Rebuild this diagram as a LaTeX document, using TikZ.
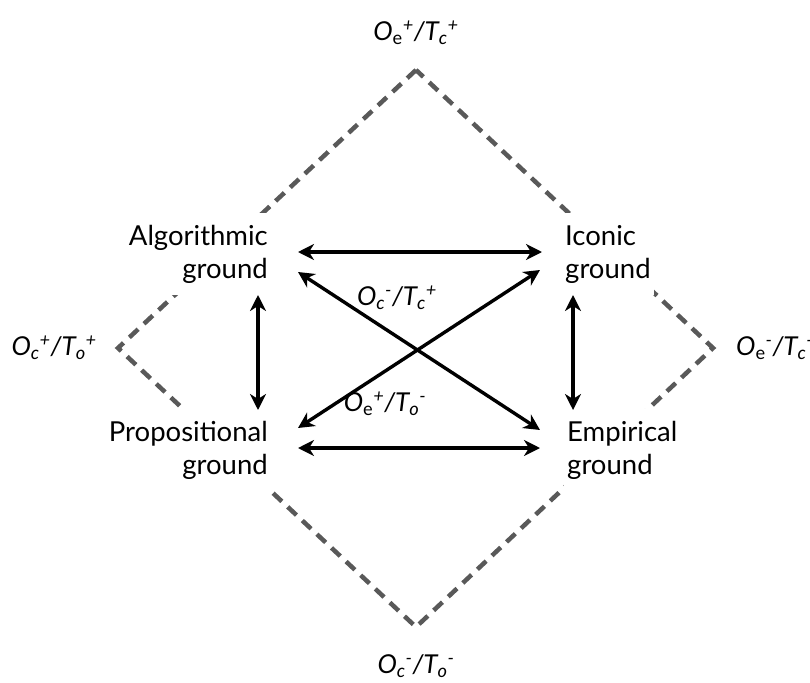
\documentclass[tikz,border=0pt]{standalone}
\usepackage{fontspec}
\setmainfont{Lato}
\usetikzlibrary{arrows.meta,calc}
\definecolor{dashgray}{HTML}{595959}
\newcommand{\mysb}[1]{\textsubscript{#1}}
\newcommand{\mysp}[1]{\textsuperscript{#1}}
\begin{document}
\begin{tikzpicture}[x=1pt,y=-1pt,
  groundbox/.style={font=\fontsize{27.5}{33}\selectfont, fill=white, inner xsep=3pt, inner ysep=12pt},
  gap/.style={font=\fontsize{26}{33}\selectfont\itshape, inner sep=0pt},
  rel/.style={line width=3.4pt, {Stealth[length=16pt,width=16pt,inset=5pt]}-{Stealth[length=16pt,width=16pt,inset=5pt]}},
  frame/.style={line width=4.5pt, dashgray, dash pattern=on 12pt off 8pt}]
\useasboundingbox (0,0) rectangle (810,682);
% outer diamond
\coordinate (top) at (416,70);
\coordinate (lft) at (118,348);
\coordinate (rgt) at (713,348);
\coordinate (bot) at (416,627);
\draw[frame] (top) -- (lft) -- (bot) -- (rgt) -- cycle;
% ground nodes
\node[groundbox, align=right, anchor=east] (alg) at (271,254) {Algorithmic\\ground};
\node[groundbox, align=left, anchor=west] (icon) at (562,254) {Iconic\\ground};
\node[groundbox, align=right, anchor=east] (prop) at (271,450) {Propositional\\ground};
\node[groundbox, align=left, anchor=west] (emp) at (564,450) {Empirical\\ground};
% relations
\draw[rel] ($(alg.east)+(27,-2)$) -- ($(icon.west)+(-20,-2)$);
\draw[rel] ($(prop.east)+(27,-2)$) -- ($(emp.west)+(-24,-2)$);
\draw[rel] ($(alg.east)+(-13,41)$) -- ($(prop.east)+(-13,-40)$);
\draw[rel] ($(icon.west)+(11,41)$) -- ($(emp.west)+(9,-40)$);
\draw[rel] ($(alg.east)+(27,18)$) -- ($(emp.west)+(-24,-20)$);
\draw[rel] ($(prop.east)+(27,-22)$) -- ($(icon.west)+(-22,16)$);
% labels
\node[gap] (ltop) at (416,33) {O\mysb{\upshape e}\mysp{+}/T\mysb{c}\mysp{+}};
\node[gap] (lbot) at (416,666) {O\mysb{c}\mysp{-}/T\mysb{o}\mysp{-}};
\node[gap, anchor=east] (llft) at (97,348) {O\mysb{c}\mysp{+}/T\mysb{o}\mysp{+}};
\node[gap, anchor=west] (lrgt) at (736,348) {O\mysb{\upshape e}\mysp{-}/T\mysb{c}\mysp{-}};
\node[gap] (lup) at (397,298) {O\mysb{c}\mysp{-}/T\mysb{c}\mysp{+}};
\node[gap] (ldn) at (385,404) {O\mysb{\upshape e}\mysp{+}/T\mysb{o}\mysp{-}};
\end{tikzpicture}
\end{document}
